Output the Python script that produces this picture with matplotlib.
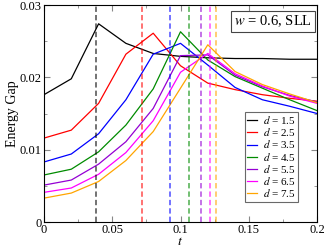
import matplotlib
matplotlib.use('Agg')
from matplotlib import pyplot as plt
from matplotlib.ticker import MultipleLocator

plt.rcParams['font.family'] = ['Liberation Serif', 'DejaVu Serif']
plt.rcParams['mathtext.fontset'] = 'stix'

t = [0.0, 0.02, 0.04, 0.06, 0.08, 0.10, 0.12, 0.14, 0.16, 0.18, 0.20]

d_labels = ['1.5', '2.5', '3.5', '4.5', '5.5', '6.5', '7.5']
colors = ['black', 'red', 'blue', '#008b00', '#9400d3', '#ff00ff', '#ffa500']

gap_d15 = [0.0176, 0.0198, 0.0274, 0.0247, 0.0233, 0.0229, 0.0227, 0.0226, 0.0226, 0.0225, 0.0225]
gap_d25 = [0.0116, 0.0127, 0.0164, 0.0232, 0.0261, 0.0216, 0.0192, 0.0183, 0.0176, 0.0171, 0.0167]
gap_d35 = [0.0083, 0.0094, 0.0122, 0.0169, 0.0232, 0.0247, 0.0217, 0.0186, 0.0169, 0.0160, 0.0150]
gap_d45 = [0.0065, 0.0073, 0.0097, 0.0134, 0.0184, 0.0263, 0.0224, 0.0201, 0.0185, 0.0169, 0.0154]
gap_d55 = [0.0051, 0.0058, 0.0080, 0.0111, 0.0157, 0.0230, 0.0231, 0.0203, 0.0187, 0.0175, 0.0166]
gap_d65 = [0.0041, 0.0047, 0.0066, 0.0096, 0.0140, 0.0207, 0.0233, 0.0205, 0.0188, 0.0174, 0.0164]
gap_d75 = [0.0033, 0.0040, 0.0056, 0.0085, 0.0125, 0.0185, 0.0245, 0.0208, 0.0190, 0.0177, 0.0165]
gaps = [gap_d15, gap_d25, gap_d35, gap_d45, gap_d55, gap_d65, gap_d75]

# position of the gap maximum for each d (dashed lines)
t_peak = [0.038, 0.072, 0.092, 0.106, 0.115, 0.1215, 0.126]

fig = plt.figure(figsize=(3.27, 2.47), dpi=100)
ax = fig.add_axes([44 / 327, 25 / 247, 273 / 327, 217 / 247])

for g, c, lab in zip(gaps, colors, d_labels):
    ax.plot(t, g, color=c, lw=0.9, label=f'$d$ = {lab}')
for tp, c in zip(t_peak, colors):
    ax.axvline(tp, color=c, lw=1.1, ls=(0, (3.5, 2)), alpha=0.7)

ax.set_xlim(0, 0.2)
ax.set_ylim(0, 0.03)
ax.xaxis.set_minor_locator(MultipleLocator(0.025))
ax.yaxis.set_minor_locator(MultipleLocator(0.005))
ax.set_xticks([0, 0.05, 0.1, 0.15, 0.2])
ax.set_xticklabels(['0', '0.05', '0.1', '0.15', '0.2'])
ax.set_yticks([0, 0.01, 0.02, 0.03])
ax.set_yticklabels(['0', '0.01', '0.02', '0.03'])
ax.tick_params(which='both', direction='in', top=True, right=True, labelsize=9, pad=1.5)
ax.tick_params(which='major', length=4, color='#888888')
ax.tick_params(which='minor', length=2, color='#888888')
for s in ax.spines.values():
    s.set_linewidth(0.8)

ax.set_xlabel('$t$', fontsize=10)
ax.xaxis.set_label_coords(0.5, -0.062, transform=ax.transAxes)
ax.xaxis.label.set_va('top')
ax.set_ylabel('Energy Gap', fontsize=10, labelpad=1)

ax.text(0.982, 0.96, '$w$ = 0.6, SLL', transform=ax.transAxes, ha='right', va='top',
        fontsize=10.5, bbox=dict(boxstyle='square,pad=0.2', fc='white', ec='#444444', lw=0.8))

leg = ax.legend(loc='lower right', bbox_to_anchor=(0.93, 0.094), fontsize=8,
                frameon=True, fancybox=False, edgecolor='#444444', handlelength=0.9,
                handletextpad=0.5, borderpad=0.2, labelspacing=0.02, borderaxespad=0)
leg.get_frame().set_linewidth(0.8)

fig.savefig('out.png', dpi=100)
